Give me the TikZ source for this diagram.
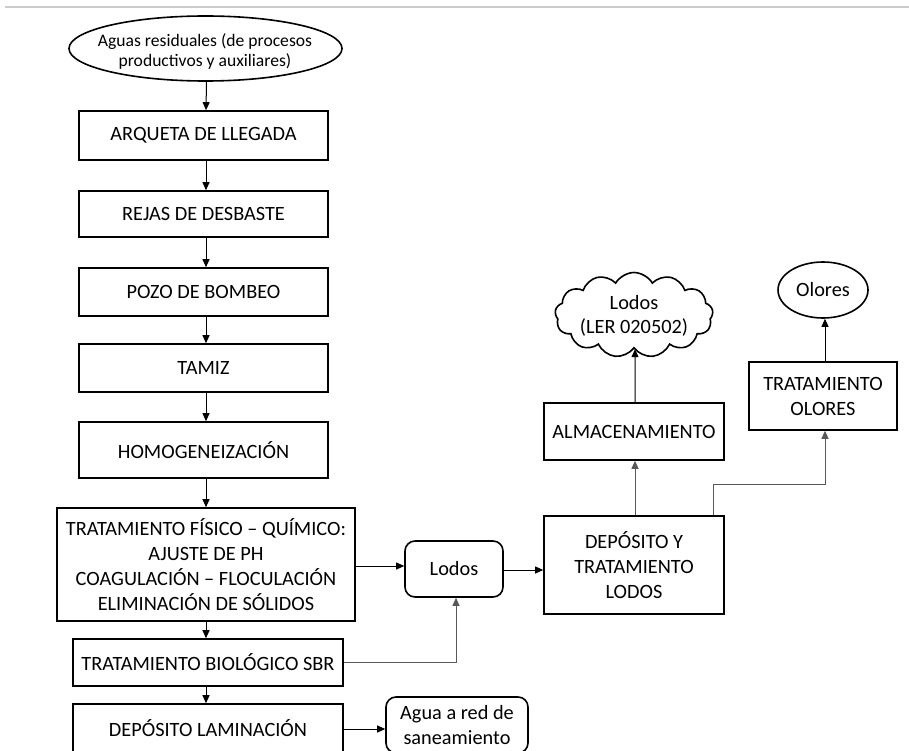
\documentclass[tikz,border=0pt]{standalone}
\usepackage{fontspec}
\setmainfont{Carlito}
\usetikzlibrary{arrows.meta,shapes.geometric,shapes.symbols}
\tikzset{
  box/.style={draw, line width=1.6pt, align=center, inner sep=2pt,
    font=\fontsize{20.3}{25}\selectfont},
  rbox/.style={box, rounded corners=10pt},
  oval/.style={draw, ellipse, line width=1.6pt, align=center, inner sep=0pt},
  txt/.style={align=center, inner sep=0pt, font=\fontsize{20.3}{24}\selectfont},
  arr/.style={line width=1pt, -{Triangle[length=8pt,width=7pt]}},
  garr/.style={arr, draw=black!65},
}
\begin{document}
\begin{tikzpicture}[x=1pt,y=-1pt]
\clip (0,0) rectangle (909,751);
\fill[white] (0,0) rectangle (909,751);
% thin rule along the top edge
\draw[black!20, line width=2.5pt] (5,7) -- (909,7);

% main treatment line
\node[oval, minimum width=273pt, minimum height=65pt] (src) at (205.5,48.5) {};
\node[txt, font=\fontsize{17.6}{20.5}\selectfont] (srctxt) at (205,51.5)
  {Aguas residuales (de procesos\\productivos y auxiliares)};
\node[box, minimum width=249pt, minimum height=49pt] (arq) at (203.5,135.5) {ARQUETA DE LLEGADA};
\node[box, minimum width=249pt, minimum height=46pt] (rej) at (203.5,214) {REJAS DE DESBASTE};
\node[box, minimum width=249pt, minimum height=48pt] (poz) at (203.5,292) {POZO DE BOMBEO};
\node[box, minimum width=249pt, minimum height=48pt] (tam) at (203.5,368) {TAMIZ};
\node[box, minimum width=249pt, minimum height=56pt] (hom) at (203.5,450) {HOMOGENEIZACIÓN};
\node[box, minimum width=298pt, minimum height=113pt] (tfq) at (206,564.5)
  {TRATAMIENTO FÍSICO – QUÍMICO:\\AJUSTE DE PH\\COAGULACIÓN – FLOCULACIÓN\\ELIMINACIÓN DE SÓLIDOS};
\node[box, minimum width=270pt, minimum height=47pt] (sbr) at (208,662.5) {TRATAMIENTO BIOLÓGICO SBR};
\node[box, minimum width=270pt, minimum height=48pt] (lam) at (208,728) {DEPÓSITO LAMINACIÓN};

% sludge and odour branch
\node[rbox, minimum width=98pt, minimum height=56pt] (lod) at (454,569) {Lodos};
\node[rbox, minimum width=142pt, minimum height=56pt] (agua) at (457,725) {Agua a red de\\saneamiento};
\node[box, minimum width=180pt, minimum height=98pt] (dep) at (634,565) {DEPÓSITO Y\\TRATAMIENTO\\LODOS};
\node[box, minimum width=180pt, minimum height=57pt] (alm) at (634,431.5) {ALMACENAMIENTO};
\node[draw, cloud, cloud puffs=13, cloud puff arc=120, aspect=1.86,
      line width=1.6pt, minimum width=158pt, minimum height=85pt, inner sep=0pt] (cld) at (634,315) {};
\node[txt] (cldtxt) at (634,315.5) {Lodos\\(LER 020502)};
\node[box, minimum width=148pt, minimum height=68pt] (tol) at (823,396) {TRATAMIENTO\\OLORES};
\node[oval, minimum width=90pt, minimum height=56pt,
      font=\fontsize{20.3}{24}\selectfont] (olo) at (823,290) {Olores};

% connectors
\draw[arr] ([xshift=1pt]src.south) -- ([xshift=2.5pt]arq.north);
\draw[arr] ([xshift=2.5pt]arq.south) -- ([xshift=2.5pt]rej.north);
\draw[arr] ([xshift=2.5pt]rej.south) -- ([xshift=2.5pt]poz.north);
\draw[arr] ([xshift=2.5pt]poz.south) -- ([xshift=2.5pt]tam.north);
\draw[arr] ([xshift=2.5pt]tam.south) -- ([xshift=2.5pt]hom.north);
\draw[arr] ([xshift=2.5pt]hom.south) -- (tfq.north);
\draw[arr] (tfq.south) -- ([xshift=-2pt]sbr.north);
\draw[arr] ([xshift=-2pt]sbr.south) -- ([xshift=-2pt]lam.north);
\draw[arr] ([yshift=-1.5pt]tfq.east) -- ([yshift=3pt]lod.west);
\draw[arr] ([yshift=-1pt]lod.east) -- ([yshift=-5pt]dep.west);
\draw[garr] (sbr.east) -| ([xshift=2pt]lod.south);
\draw[arr] ([yshift=-1pt]lam.east) -- ([yshift=-4pt]agua.west);
\draw[garr] ([xshift=1pt]dep.north) -- ([xshift=1pt]alm.south);
\draw[arr] ([xshift=1pt]alm.north) -- ([xshift=1pt]cld.south);
\draw[garr] ([xshift=79pt]dep.north) -- ++(0,-31) -| ([xshift=2pt]tol.south);
\draw[arr] ([xshift=2pt]tol.north) -- ([xshift=2pt]olo.south);
\end{tikzpicture}
\end{document}
